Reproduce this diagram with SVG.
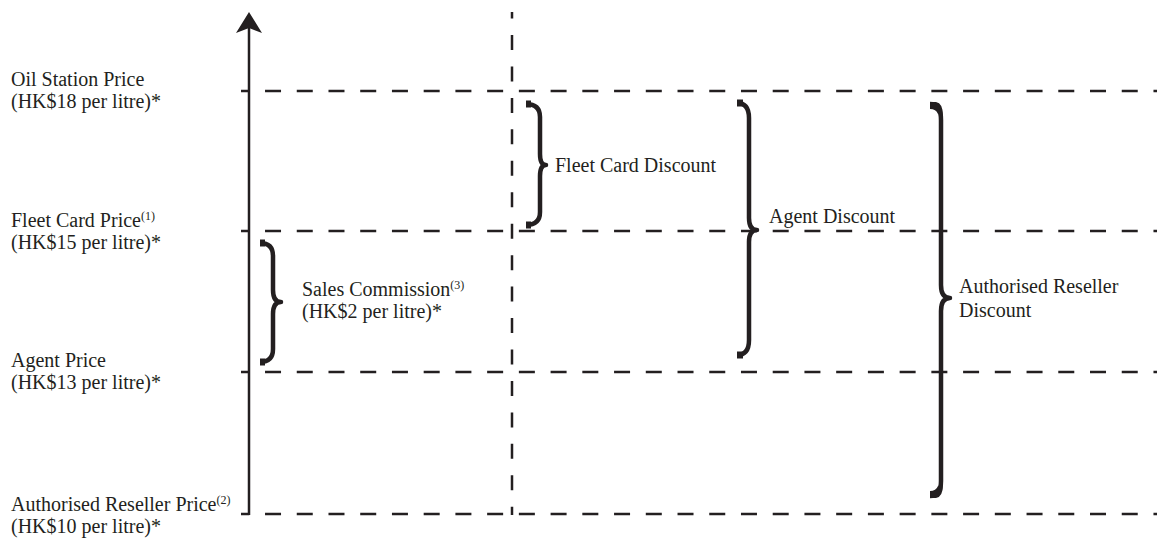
<svg xmlns="http://www.w3.org/2000/svg" width="1157" height="542" viewBox="0 0 1157 542">
  <style>
    .lbl { font-family: "Liberation Serif", "Times New Roman", serif; font-size: 20px; fill: #231f20; }
    .sup { font-size: 12px; }
    .level { stroke: #231f20; stroke-width: 2.5; fill: none; stroke-dasharray: 16 15.73; stroke-dashoffset: 7.7; }
    .divider { stroke: #231f20; stroke-width: 2.5; fill: none; stroke-dasharray: 15 16.45; stroke-dashoffset: 8.45; }
    .axis { stroke: #231f20; stroke-width: 2.5; fill: none; }
    .brace { stroke: #231f20; stroke-width: 4.5; fill: none; stroke-linejoin: round; }
    .tab { stroke: #231f20; stroke-width: 7; fill: none; }
  </style>

  <!-- price level lines and the column divider -->
  <g id="connectors">
    <line class="level" x1="241" y1="91" x2="1157" y2="91"/>
    <line class="level" x1="241" y1="231" x2="1157" y2="231"/>
    <line class="level" x1="241" y1="372" x2="1157" y2="372"/>
    <line class="level" x1="241" y1="514" x2="1157" y2="514"/>
    <line class="divider" x1="512" y1="12" x2="512" y2="515"/>
  </g>

  <!-- vertical price axis -->
  <g id="axis">
    <line class="axis" x1="249" y1="26" x2="249" y2="515"/>
    <path d="M249,12 L262,33 L249,28 L236,33 Z" fill="#231f20"/>
  </g>

  <!-- price labels -->
  <g id="oil-station-price">
    <text class="lbl" x="11" y="86">Oil Station Price</text>
    <text class="lbl" x="11" y="108">(HK$18 per litre)*</text>
  </g>
  <g id="fleet-card-price">
    <text class="lbl" x="11" y="227">Fleet Card Price<tspan class="sup" dy="-7">(1)</tspan></text>
    <text class="lbl" x="11" y="249">(HK$15 per litre)*</text>
  </g>
  <g id="agent-price">
    <text class="lbl" x="11" y="367">Agent Price</text>
    <text class="lbl" x="11" y="389">(HK$13 per litre)*</text>
  </g>
  <g id="authorised-reseller-price">
    <text class="lbl" x="11" y="511">Authorised Reseller Price<tspan class="sup" dy="-7">(2)</tspan></text>
    <text class="lbl" x="11" y="533">(HK$10 per litre)*</text>
  </g>

  <!-- sales commission brace -->
  <g id="sales-commission">
    <path class="brace" d="M260,243 Q273,243 273,256 L273,290 Q273,302 281,302 Q273,302 273,314 L273,349 Q273,362 260,362"/>
    <line class="tab" x1="260" y1="243" x2="265" y2="243"/>
    <line class="tab" x1="260" y1="362" x2="265" y2="362"/>
    <text class="lbl" x="302" y="296">Sales Commission<tspan class="sup" dy="-7">(3)</tspan></text>
    <text class="lbl" x="302" y="318">(HK$2 per litre)*</text>
  </g>

  <!-- fleet card discount brace -->
  <g id="fleet-card-discount">
    <path class="brace" d="M526,104 Q540,104 540,117 L540,154 Q540,165 546,165 Q540,165 540,176 L540,212 Q540,225 526,225"/>
    <line class="tab" x1="526" y1="104" x2="531" y2="104"/>
    <line class="tab" x1="526" y1="225" x2="531" y2="225"/>
    <text class="lbl" x="555" y="172">Fleet Card Discount</text>
  </g>

  <!-- agent discount brace -->
  <g id="agent-discount">
    <path class="brace" d="M737,103 Q749,103 749,118 L749,218 Q749,230 757,230 Q749,230 749,242 L749,340 Q749,355 737,355"/>
    <line class="tab" x1="737" y1="103" x2="743" y2="103"/>
    <line class="tab" x1="737" y1="355" x2="743" y2="355"/>
    <text class="lbl" x="769" y="223">Agent Discount</text>
  </g>

  <!-- authorised reseller discount brace -->
  <g id="authorised-reseller-discount">
    <path class="brace" d="M930,104 Q941,104 941,120 L941,285 Q941,298 950,298 Q941,298 941,311 L941,481 Q941,496 930,496"/>
    <path d="M930,102 L936,102 Q943,103 943,116 L938,114 Q936,109 930,109 Z" fill="#231f20"/>
    <path d="M930,498 L936,498 Q943,497 943,484 L938,486 Q936,491 930,491 Z" fill="#231f20"/>
    <text class="lbl" x="959" y="293">Authorised Reseller</text>
    <text class="lbl" x="959" y="317">Discount</text>
  </g>
</svg>
